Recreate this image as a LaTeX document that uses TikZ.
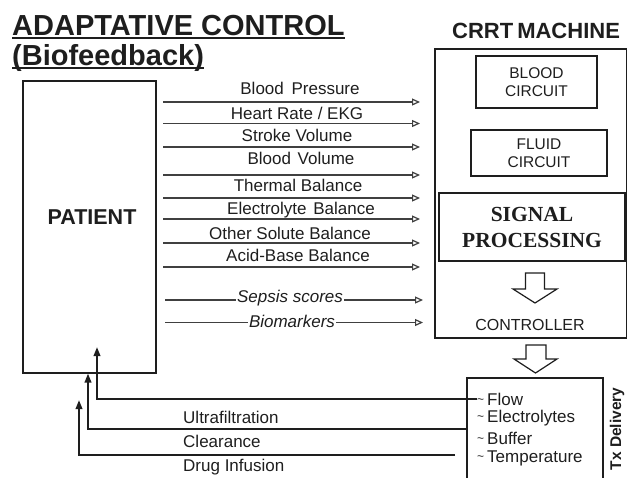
\documentclass[tikz,border=0pt]{standalone}
\usepackage{fontspec}
\setmainfont{Liberation Sans}
\newfontfamily\serfam{Liberation Serif}
\usetikzlibrary{arrows.meta}
\definecolor{ink}{HTML}{1E1E1E}
\newcommand\myul[1]{\setbox0\hbox{#1}\rlap{\rule[-4pt]{\wd0}{2.2pt}}\box0}
\newcommand\tld{{\fontsize{12}{12}\selectfont\raisebox{1.5pt}{\textasciitilde}}\hspace{3pt}}
\begin{document}
\begin{tikzpicture}[x=1pt,y=-1pt,
  box/.style={draw=ink, line width=1.3pt, inner sep=0pt},
  sig/.style={draw=ink!85, line width=1.2pt, -{Triangle[open,width=7pt,length=8pt]}},
  fb/.style={draw=ink, line width=2pt, -{Triangle[width=6.5pt,length=9pt]}},
  lab/.style={font=\fontsize{17}{17}\selectfont, text=ink, inner sep=0pt},
  ilab/.style={font=\fontsize{17}{17}\selectfont\itshape, text=ink, fill=white, inner xsep=1pt, inner ysep=0pt},
  boxtxt/.style={font=\fontsize{15.5}{18.5}\selectfont, text=ink, align=center},
  hollow/.style={draw=ink, line width=1.2pt, fill=white, line join=miter}
]
\useasboundingbox (0,0) rectangle (628,477);

% titles
\node[anchor=base west, inner sep=0pt, text=ink, font=\fontsize{29}{29}\selectfont\bfseries] (t1) at (12,35) {\myul{ADAPTATIVE CONTROL}};
\node[anchor=base west, inner sep=0pt, text=ink, font=\fontsize{29}{29}\selectfont\bfseries] (t2) at (12,65) {\myul{(Biofeedback)}};
\node[anchor=base west, inner sep=0pt, text=ink, font=\fontsize{22}{22}\selectfont\bfseries] (crrt) at (452,38) {CRRT\hspace{4pt}MACHINE};

% patient
\node[box, minimum width=133pt, minimum height=292pt] (patient) at (89.5,227) {};
\node[text=ink, font=\fontsize{21.5}{21.5}\selectfont\bfseries] (ptxt) at (92,217) {PATIENT};

% machine
\node[box, minimum width=191.5pt, minimum height=289pt] (machine) at (530.75,193.5) {};
\node[box, minimum width=121pt, minimum height=52pt, boxtxt] (blood) at (536.5,82) {BLOOD\\CIRCUIT};
\node[box, minimum width=136pt, minimum height=46pt, boxtxt] (fluid) at (539,153) {FLUID\\CIRCUIT};
\node[box, minimum width=186pt, minimum height=68pt, align=center, text=ink, font=\fontsize{21.5}{26}\serfam\bfseries] (signal) at (532,227) {SIGNAL\\PROCESSING};
\draw[hollow] (525.5,273) -- (544.5,273) -- (544.5,289) -- (557,289) -- (535,303) -- (513,289) -- (525.5,289) -- cycle;
\node[text=ink, font=\fontsize{16}{16}\selectfont] (ctrl) at (530,325) {CONTROLLER};
\draw[hollow] (526,345) -- (546,345) -- (546,359) -- (557,359) -- (535.5,373) -- (514,359) -- (526,359) -- cycle;

% Tx delivery
\node[box, minimum width=136pt, minimum height=106pt] (tx) at (535,431) {};
\node[lab, anchor=west] (flow) at (477,399) {\tld Flow};
\node[lab, anchor=west] (elec) at (477,418) {\tld Electrolytes};
\node[lab, anchor=west] (buf) at (477,438) {\tld Buffer};
\node[lab, anchor=west] (temp) at (477,458) {\tld Temperature};
\node[rotate=90, text=ink, inner sep=0pt, font=\fontsize{15.5}{15.5}\selectfont\bfseries] (txd) at (617,429) {Tx Delivery};

% signal arrows
\foreach \i/\y/\xa/\xb in {1/102/163/420, 2/123.5/163/420, 3/147/163/420, 4/175/163/420, 5/198/163/420, 6/219/163/420, 7/243/163/420, 8/267/163/420, 9/300/165/423, 10/322.5/165/423}{
  \coordinate (sL\i) at (\xa,\y);
  \coordinate (sR\i) at (\xb,\y);
  \draw[sig] (sL\i) -- (sR\i);
}
\node[lab] (l1) at (300,88) {Blood\hspace{3pt} Pressure};
\node[lab] (l2) at (297,113) {Heart Rate / EKG};
\node[lab] (l3) at (297,135) {Stroke Volume};
\node[lab] (l4) at (301,158) {Blood\hspace{2pt} Volume};
\node[lab] (l5) at (298,185) {Thermal Balance};
\node[lab] (l6) at (301,210) {Electrolyte\hspace{2pt} Balance};
\node[lab] (l7) at (290,233) {Other Solute Balance};
\node[lab] (l8) at (298,255) {Acid-Base Balance};
\node[ilab] (l9) at (290,298) {Sepsis scores};
\node[ilab] (l10) at (292,321) {Biomarkers};

% feedback arrows
\coordinate (uft) at (97,347);
\coordinate (cls) at (466,429);
\coordinate (clt) at (88,373.5);
\coordinate (drs) at (455,455);
\coordinate (drt) at (79,400);
\draw[fb] (flow.west) -| (uft);
\draw[fb] (cls) -| (clt);
\draw[fb] (drs) -| (drt);
\node[lab, anchor=west] (uf) at (183,417) {Ultrafiltration};
\node[lab, anchor=west] (cl) at (183,441) {Clearance};
\node[lab, anchor=west] (dr) at (183,467) {Drug Infusion};
\end{tikzpicture}
\end{document}
